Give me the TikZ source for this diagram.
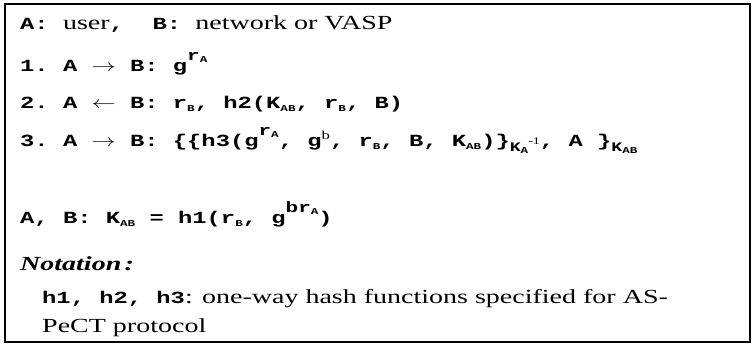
\documentclass[tikz,border=0pt]{standalone}
\usepackage{fontspec}
\usepackage{graphicx}
\setmainfont{Liberation Serif}[FakeStretch=1.4]
\setmonofont{Liberation Mono}[FakeStretch=1.4]
\newcommand{\lo}[1]{\raisebox{-0.25ex}{\fontsize{9}{10}\selectfont\ttfamily\bfseries #1}}
\newcommand{\hi}[2]{\raisebox{11pt}{\fontsize{15}{16}\selectfont\ttfamily\bfseries #1\lo{#2}}}
\newcommand{\kk}[2]{\raisebox{-5pt}{\fontsize{13}{14}\selectfont\ttfamily\bfseries K\lo{#1}#2}}
\newcommand{\ar}[1]{\scalebox{1.4}[1]{$#1$}}
\begin{document}
\begin{tikzpicture}[x=1pt,y=-1pt,
  txt/.style={anchor=base west,inner sep=0,font=\fontsize{20}{24}\selectfont},
  cod/.style={anchor=base west,inner sep=0,font=\fontsize{17}{20}\selectfont\ttfamily\bfseries}]
\useasboundingbox (0,0) rectangle (752,344);
\draw[line width=1.3pt] (5,4) rectangle (750,342);
\node[cod](roles) at (20,30){A: {\rmfamily\mdseries\fontsize{20}{24}\selectfont user},~~B: {\rmfamily\mdseries\fontsize{20}{24}\selectfont network or VASP}};
\node[cod](msg1) at (20,72){1. A \ar{\rightarrow} B: g\hi{r}{A}};
\node[cod](msg2) at (20,109){2. A \ar{\leftarrow} B: r\lo{B}, h2(K\lo{AB}, r\lo{B}, B)};
\node[cod](msg3) at (20,147){3. A \ar{\rightarrow} B: \{\{h3(g\hi{r}{A}, g\raisebox{7pt}{\fontsize{12}{13}\selectfont\rmfamily\mdseries b}, r\lo{B}, B, K\lo{AB})\}\kk{A}{\raisebox{7pt}{\fontsize{10}{11}\selectfont\rmfamily\mdseries -1}}, A \}\kk{AB}{}};
\node[cod](key) at (20,224){A, B: K\lo{AB} = h1(r\lo{B}, g\hi{br}{A})};
\node[txt,font=\fontsize{20}{24}\selectfont\bfseries\itshape](notation) at (20,271){Notation\,:};
\node[txt](hash) at (42,304){{\ttfamily\bfseries\fontsize{17}{20}\selectfont h1, h2, h3}: one-way hash functions specified for AS-};
\node[txt](proto) at (42,333){PeCT protocol};
\end{tikzpicture}
\end{document}
